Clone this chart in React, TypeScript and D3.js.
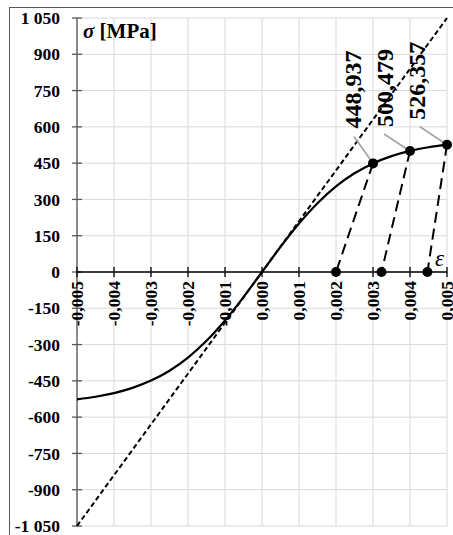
import React from "react";
import * as d3 from "d3";

// Strain ticks (dimensionless) and their printed labels
const X_TICKS = [-0.005, -0.004, -0.003, -0.002, -0.001, 0, 0.001, 0.002, 0.003, 0.004, 0.005];
const X_TICK_LABELS = ["-0,005", "-0,004", "-0,003", "-0,002", "-0,001", "0,000", "0,001", "0,002", "0,003", "0,004", "0,005"];

// Stress ticks [MPa] and their printed labels
const Y_TICKS = [1050, 900, 750, 600, 450, 300, 150, 0, -150, -300, -450, -600, -750, -900, -1050];
const Y_TICK_LABELS = ["1 050", "900", "750", "600", "450", "300", "150", "0", "-150", "-300", "-450", "-600", "-750", "-900", "-1 050"];

// Stress–strain curve
const CURVE_STRAIN = [
  -0.005, -0.0045, -0.004, -0.0035, -0.003, -0.0025, -0.002, -0.0015, -0.001, -0.0005,
  0, 0.0005, 0.001, 0.0015, 0.002, 0.0025, 0.003, 0.0035, 0.004, 0.0045, 0.005,
];
const CURVE_STRESS = [
  -526.4, -515.7, -500.5, -478.9, -448.9, -408.0, -353.8, -284.5, -200.4, -103.7,
  0, 103.7, 200.4, 284.5, 353.8, 408.0, 448.9, 478.9, 500.5, 515.7, 526.4,
];

// Linear-elastic reference line end points
const ELASTIC_STRAIN = [-0.005, 0.005];
const ELASTIC_STRESS = [-1050, 1050];

// Labelled points on the curve and the residual strain after unloading
const POINT_STRAIN = [0.003, 0.004, 0.005];
const POINT_STRESS = [448.937, 500.479, 526.357];
const POINT_LABELS = ["448,937", "500,479", "526,357"];
const RESIDUAL_STRAIN = [0.002, 0.00323, 0.00447];

// Layout
const W = 453;
const H = 535;
const PLOT = { left: 77, right: 447, top: 18, bottom: 526 };
// Label placement relative to each point (bottom end of the rotated text)
const LABEL_SHIFT = [
  { dx: -20, dy: -35 },
  { dx: -25, dy: -24 },
  { dx: -30, dy: -25 },
];
const LEADER_SHIFT = [
  { dx: -19, dy: -27 },
  { dx: -26, dy: -17 },
  { dx: -27, dy: -18 },
];

const FONT = "'Liberation Serif', Tinos, 'Times New Roman', Times, serif";

export default function App() {
  const x = d3.scaleLinear().domain([-0.005, 0.005]).range([PLOT.left, PLOT.right]);
  const y = d3.scaleLinear().domain([-1050, 1050]).range([PLOT.bottom, PLOT.top]);

  const curvePts: [number, number][] = CURVE_STRAIN.map((e, i) => [e, CURVE_STRESS[i]]);
  const curvePath = d3
    .line<[number, number]>()
    .x((d) => x(d[0]))
    .y((d) => y(d[1]))
    .curve(d3.curveMonotoneX)(curvePts);

  const elasticPath = d3
    .line<[number, number]>()
    .x((d) => x(d[0]))
    .y((d) => y(d[1]))(ELASTIC_STRAIN.map((e, i) => [e, ELASTIC_STRESS[i]] as [number, number]));

  const y0 = y(0);

  return (
    <svg
      width={W}
      height={H}
      style={{ position: "absolute", left: 0, top: 0, background: "#fff", fontFamily: FONT }}
    >
      <rect x={0} y={0} width={W} height={H} fill="#fff" />
      {/* chart frame */}
      <rect x={9.5} y={7.5} width={W + 20} height={H + 20} fill="none" stroke="#595959" strokeWidth={1} />

      {/* grid */}
      {X_TICKS.map((t) => (
        <line key={"gx" + t} x1={x(t)} x2={x(t)} y1={PLOT.top} y2={PLOT.bottom} stroke="#d9d9d9" strokeWidth={1} />
      ))}
      {Y_TICKS.map((t) => (
        <line key={"gy" + t} x1={PLOT.left} x2={PLOT.right} y1={y(t)} y2={y(t)} stroke="#d9d9d9" strokeWidth={1} />
      ))}

      {/* y axis */}
      <line x1={PLOT.left} x2={PLOT.left} y1={PLOT.top} y2={PLOT.bottom} stroke="#595959" strokeWidth={1.3} />
      {Y_TICKS.map((t) => (
        <line key={"ty" + t} x1={PLOT.left - 5} x2={PLOT.left + 5} y1={y(t)} y2={y(t)} stroke="#595959" strokeWidth={1.3} />
      ))}
      {Y_TICKS.map((t, i) => (
        <text
          key={"ly" + t}
          x={60}
          y={y(t)}
          dy="0.35em"
          textAnchor="end"
          fontWeight="bold"
          fontSize={17.5}
          fill="#000"
        >
          {Y_TICK_LABELS[i]}
        </text>
      ))}

      {/* x axis */}
      <line x1={PLOT.left} x2={PLOT.right} y1={y0} y2={y0} stroke="#000" strokeWidth={1.3} />
      {X_TICKS.map((t) => (
        <line key={"tx" + t} x1={x(t)} x2={x(t)} y1={y0 - 5} y2={y0 + 5} stroke="#000" strokeWidth={1.3} />
      ))}
      {X_TICKS.map((t, i) => (
        <text
          key={"lx" + t}
          transform={`translate(${x(t)},${y0 + 9}) rotate(-90)`}
          dy="0.35em"
          textAnchor="end"
          fontWeight="bold"
          fontSize={17.5}
          fill="#000"
        >
          {X_TICK_LABELS[i]}
        </text>
      ))}

      {/* axis titles */}
      <text x={83} y={38} fontWeight="bold" fontSize={21} fill="#000">
        <tspan fontStyle="italic">σ</tspan>
        <tspan> [MPa]</tspan>
      </text>
      <text x={435} y={266} fontStyle="italic" fontSize={23} fill="#000">
        ε
      </text>

      {/* elastic reference */}
      <path d={elasticPath ?? ""} fill="none" stroke="#000" strokeWidth={2} strokeDasharray="5,3" />

      {/* stress–strain curve */}
      <path d={curvePath ?? ""} fill="none" stroke="#000" strokeWidth={2.2} />

      {/* unloading branches */}
      {POINT_STRAIN.map((e, i) => (
        <line
          key={"un" + i}
          x1={x(e)}
          y1={y(POINT_STRESS[i])}
          x2={x(RESIDUAL_STRAIN[i])}
          y2={y0}
          stroke="#000"
          strokeWidth={2}
          strokeDasharray="11,6"
        />
      ))}

      {/* leader lines and labels */}
      {POINT_STRAIN.map((e, i) => {
        const px = x(e);
        const py = y(POINT_STRESS[i]);
        return (
          <g key={"lab" + i}>
            <line
              x1={px}
              y1={py}
              x2={px + LEADER_SHIFT[i].dx}
              y2={py + LEADER_SHIFT[i].dy}
              stroke="#a6a6a6"
              strokeWidth={1.8}
            />
            <text
              transform={`translate(${px + LABEL_SHIFT[i].dx},${py + LABEL_SHIFT[i].dy}) rotate(-90)`}
              dy="0.35em"
              textAnchor="start"
              fontWeight="bold"
              fontSize={24}
              fill="#000"
            >
              {POINT_LABELS[i]}
            </text>
          </g>
        );
      })}

      {/* markers */}
      {POINT_STRAIN.map((e, i) => (
        <circle key={"mp" + i} cx={x(e)} cy={y(POINT_STRESS[i])} r={5} fill="#000" />
      ))}
      {RESIDUAL_STRAIN.map((e, i) => (
        <circle key={"mr" + i} cx={x(e)} cy={y0} r={5} fill="#000" />
      ))}
    </svg>
  );
}
